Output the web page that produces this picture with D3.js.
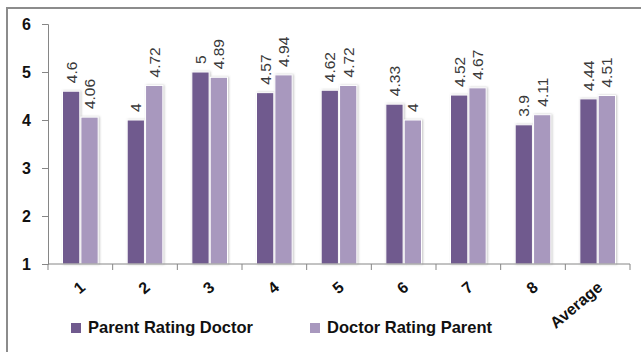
<!DOCTYPE html>
<meta charset="utf-8">
<style>
  body { margin: 0; background: #fff; }
  svg { display: block; font-family: "Liberation Sans", Arial, sans-serif; }
</style>
<svg width="641" height="352"></svg>
<script src="https://d3js.org/d3.v7.min.js"></script>
<script>

    var categories = ["1", "2", "3", "4", "5", "6", "7", "8", "Average"];
    var seriesNames = ["Parent Rating Doctor", "Doctor Rating Parent"];
    var parentRatingDoctor = [4.6, 4, 5, 4.57, 4.62, 4.33, 4.52, 3.9, 4.44];
    var doctorRatingParent = [4.06, 4.72, 4.89, 4.94, 4.72, 4, 4.67, 4.11, 4.51];
    var yTicks = [1, 2, 3, 4, 5, 6];
    var colors = ["#705a8e", "#a898be"];

    var svg = d3.select("svg"),
        margin = {top: 24, left: 48, right: 11, bottom: 88},
        width = +svg.attr("width") - margin.left - margin.right,
        height = +svg.attr("height") - margin.top - margin.bottom;

    // outer frame (right and bottom edges fall outside the picture)
    svg.append("rect")
        .attr("x", 7).attr("y", 8)
        .attr("width", 700).attr("height", 400)
        .attr("fill", "none")
        .attr("stroke", "#8c8c8c")
        .attr("stroke-width", 2);

    var defs = svg.append("defs");
    defs.append("filter").attr("id", "shadow")
        .attr("x", "-30%").attr("y", "-5%").attr("width", "160%").attr("height", "110%")
        .append("feDropShadow")
        .attr("dx", 1).attr("dy", 0).attr("stdDeviation", 1)
        .attr("flood-color", "#888").attr("flood-opacity", 0.5);

    var g = svg.append("g")
        .attr("transform", "translate(" + margin.left + "," + margin.top + ")");

    var x0 = d3.scaleBand().domain(categories).range([0, width]);
    var x1 = d3.scaleBand().domain(seriesNames)
        .range([14.5, x0.bandwidth() - 14.5])
        .paddingInner(0.06);
    var y = d3.scaleLinear().domain([1, 6]).range([height, 0]);

    var data = categories.map(function(c, i) {
        return {cat: c, values: [
            {name: seriesNames[0], v: parentRatingDoctor[i], c: colors[0]},
            {name: seriesNames[1], v: doctorRatingParent[i], c: colors[1]}
        ]};
    });

    var groups = g.selectAll(".grp")
        .data(data)
        .enter().append("g")
        .attr("class", "grp")
        .attr("transform", function(d) { return "translate(" + x0(d.cat) + ",0)"; });

    groups.selectAll("rect")
        .data(function(d) { return d.values; })
        .enter().append("rect")
        .attr("x", function(d) { return x1(d.name); })
        .attr("y", function(d) { return y(d.v); })
        .attr("width", x1.bandwidth())
        .attr("height", function(d) { return height - y(d.v); })
        .attr("fill", function(d) { return d.c; })
        .attr("stroke", "#fff")
        .attr("stroke-width", 1)
        .attr("filter", "url(#shadow)");

    groups.selectAll("text")
        .data(function(d) { return d.values; })
        .enter().append("text")
        .attr("transform", function(d) {
            return "translate(" + (x1(d.name) + x1.bandwidth() / 2) + "," + (y(d.v) - 8) + ") rotate(-90)";
        })
        .attr("dy", "0.36em")
        .attr("font-size", 15.5)
        .attr("fill", "#3a3a3a")
        .text(function(d) { return d.v; });

    // y axis
    var yAxis = g.append("g")
        .call(d3.axisLeft(y).tickValues(yTicks).tickSize(6).tickPadding(11).tickFormat(d3.format("d")));
    yAxis.select(".domain").attr("stroke", "#868686");
    yAxis.selectAll(".tick line").attr("stroke", "#868686");
    yAxis.selectAll(".tick text")
        .attr("font-size", 16).attr("font-weight", "bold").attr("fill", "#111")
        .attr("font-family", "\"Liberation Sans\", Arial, sans-serif");

    // x axis: ticks on band boundaries
    var xAxis = g.append("g").attr("transform", "translate(0," + height + ")");
    xAxis.append("line")
        .attr("x1", 0).attr("x2", width)
        .attr("stroke", "#868686");
    xAxis.selectAll(".xt")
        .data(categories.concat(["end"]))
        .enter().append("line")
        .attr("x1", function(d, i) { return i * x0.bandwidth(); })
        .attr("x2", function(d, i) { return i * x0.bandwidth(); })
        .attr("y1", 0).attr("y2", 6)
        .attr("stroke", "#868686");
    xAxis.selectAll(".xl")
        .data(categories)
        .enter().append("text")
        .attr("transform", function(d) {
            return "translate(" + (x0(d) + x0.bandwidth() / 2 + 6) + ",25) rotate(-40)";
        })
        .attr("text-anchor", "end")
        .attr("font-size", 16)
        .attr("font-weight", "bold")
        .attr("fill", "#111")
        .text(function(d) { return d; });

    // legend
    var legend = svg.append("g");
    var legendX = [71, 310];
    seriesNames.forEach(function(name, i) {
        var lg = legend.append("g").attr("transform", "translate(" + legendX[i] + ",323)");
        lg.append("rect").attr("width", 10).attr("height", 10).attr("fill", colors[i]);
        lg.append("text")
            .attr("x", 17).attr("y", 10)
            .attr("font-size", 16.5)
            .attr("font-weight", "bold")
            .attr("fill", "#111")
            .text(name);
    });
</script>
